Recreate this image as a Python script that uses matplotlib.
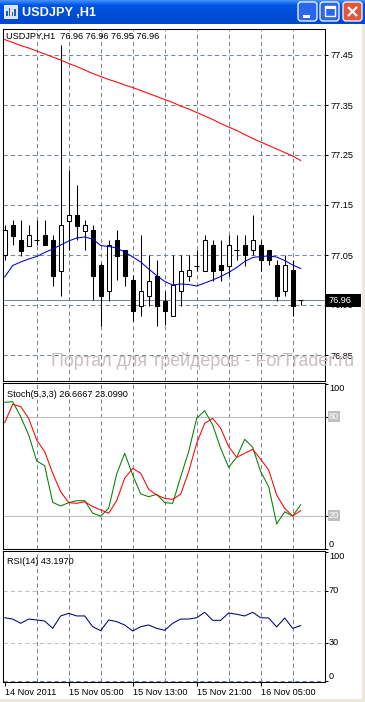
import numpy as np
import matplotlib
matplotlib.use('Agg')
import matplotlib.pyplot as plt
from matplotlib.patches import Rectangle, FancyBboxPatch
import matplotlib.transforms as mtrans

plt.rcParams['font.family'] = ['Liberation Sans', 'DejaVu Sans']

W, H = 365, 702

# ---------------- data ----------------
window_title = "USDJPY ,H1"
chart_label = "USDJPY,H1  76.96 76.96 76.95 76.96"
stoch_label = "Stoch(5,3,3) 26.6667 23.0990"
rsi_label = "RSI(14) 43.1970"
watermark = "Портал для трейдеров - ForTrader.ru"

opens = [77.05, 77.11, 77.08, 77.069, 77.08, 77.09, 77.08, 77.019, 77.119, 77.13,
         77.099, 77.10, 77.03, 76.979, 77.08, 77.06, 77.00, 76.949, 76.969, 77.009,
         76.959, 76.929, 76.979, 77.009, 77.029, 77.019, 77.07, 77.03, 77.029, 77.06,
         77.07, 77.06, 77.07, 77.06, 77.03, 76.979, 77.02, 76.96]
highs = [77.11, 77.12, 77.12, 77.11, 77.12, 77.12, 77.09, 77.47, 77.22, 77.19,
         77.12, 77.11, 77.035, 77.08, 77.10, 77.06, 77.01, 77.09, 77.05, 77.04,
         76.979, 77.05, 77.05, 77.05, 77.06, 77.09, 77.08, 77.08, 77.09, 77.09,
         77.09, 77.13, 77.08, 77.06, 77.04, 77.05, 77.04, 76.96]
lows = [77.04, 77.07, 77.048, 77.069, 77.07, 77.07, 76.988, 76.968, 77.06, 77.08,
        77.06, 76.96, 76.908, 76.959, 77.00, 76.988, 76.919, 76.929, 76.949, 76.908,
        76.91, 76.929, 76.949, 76.999, 77.019, 77.019, 76.999, 76.999, 77.009, 77.04,
        77.029, 77.05, 77.019, 77.03, 76.959, 76.969, 76.929, 76.95]
closes = [77.10, 77.088, 77.059, 77.09, 77.08, 77.07, 77.008, 77.11, 77.13, 77.108,
          77.11, 77.008, 76.968, 77.07, 77.049, 77.008, 76.939, 76.979, 76.999, 76.949,
          76.939, 76.99, 77.019, 77.019, 77.029, 77.08, 77.019, 77.019, 77.07, 77.06,
          77.05, 77.08, 77.04, 77.04, 76.969, 77.03, 76.949, 76.96]

ma_fast = [77.006, 77.029, 77.036, 77.042, 77.047, 77.055, 77.062, 77.070, 77.078, 77.084,
           77.086, 77.082, 77.069, 77.067, 77.064, 77.056, 77.046, 77.036, 77.022, 77.009,
           76.997, 76.990, 76.992, 76.991, 76.988, 76.994, 77.000, 77.007, 77.015, 77.025,
           77.037, 77.045, 77.047, 77.048, 77.046, 77.039, 77.030, 77.023]
ma_slow = [77.481, 77.475, 77.469, 77.464, 77.458, 77.452, 77.446, 77.440, 77.433, 77.427,
           77.420, 77.413, 77.407, 77.401, 77.396, 77.390, 77.385, 77.379, 77.373, 77.367,
           77.361, 77.355, 77.348, 77.342, 77.335, 77.328, 77.321, 77.313, 77.306, 77.299,
           77.291, 77.283, 77.276, 77.269, 77.262, 77.255, 77.248, 77.239]

stoch_main = [88.7, 89.1, 80.0, 68.9, 53.2, 50.3, 28.1, 25.9, 27.9, 29.1,
              29.1, 21.5, 19.8, 24.5, 45.3, 57.8, 44.7, 33.2, 31.5, 33.0,
              27.9, 27.5, 43.6, 58.8, 79.0, 83.6, 75.0, 60.8, 49.3, 55.4,
              66.3, 61.5, 46.7, 37.6, 15.0, 22.4, 19.8, 26.67]
stoch_signal = [76.4, 87.5, 86.1, 79.0, 65.9, 58.8, 45.7, 34.5, 27.9, 27.5,
                28.5, 25.5, 23.5, 21.5, 29.1, 42.7, 48.7, 45.7, 36.0, 32.5,
                30.5, 29.9, 33.0, 46.7, 63.9, 76.0, 79.0, 73.0, 61.8, 55.4,
                57.8, 60.2, 54.2, 47.7, 32.5, 24.5, 19.8, 23.1]
rsi = [49.3, 48.3, 45.0, 48.3, 47.6, 46.8, 41.1, 50.7, 52.7, 50.7,
       50.7, 42.4, 39.3, 47.6, 46.3, 43.7, 39.1, 42.4, 43.7, 41.1,
       39.6, 45.0, 48.3, 48.3, 49.3, 53.5, 47.3, 47.3, 53.0, 52.0,
       50.7, 53.5, 49.3, 49.1, 42.2, 49.1, 41.1, 43.2]

price_ticks = [77.45, 77.35, 77.25, 77.15, 77.05, 76.95, 76.85]
last_price = 76.96
stoch_levels = [80, 20]
stoch_ticks = ["100", "80", "20", "0"]
rsi_levels = [70, 30]
rsi_ticks = ["100", "70", "30", "0"]
time_labels = ["14 Nov 2011", "15 Nov 05:00", "15 Nov 13:00", "15 Nov 21:00", "16 Nov 05:00"]
time_label_idx = [0, 8, 16, 24, 32]
grid_idx = [4, 8, 12, 16, 20, 24, 28, 32, 36]

# ---------------- styles ----------------
GRID = '#778899'
LW = 0.75
FS = 6.6
DASH = (0, (4, 3))

fig = plt.figure(figsize=(W / 100, H / 100), dpi=100)
fig.patch.set_facecolor('#ECE9D8')


def box(x0, y0, x1, y1):
    return [x0 / W, 1 - y1 / H, (x1 - x0) / W, (y1 - y0) / H]


# background / window chrome
bg = fig.add_axes([0, 0, 1, 1], zorder=-10)
bg.set_xlim(0, W)
bg.set_ylim(H, 0)
bg.axis('off')
bg.add_patch(Rectangle((0, 24), 362, 675, fc='white', ec='none'))
n = 24
t = np.linspace(0, 1, n)
top = np.array([0.25, 0.56, 0.99])
mid = np.array([0.0, 0.33, 0.89])
bot = np.array([0.0, 0.28, 0.80])
cols = np.where(t[:, None] < 0.2, top + (mid - top) * (t[:, None] / 0.2),
                mid + (bot - mid) * np.clip((t[:, None] - 0.2) / 0.8, 0, 1))
img = np.repeat(cols[:, None, :], 4, axis=1)
bg.imshow(img, extent=(0, W, 24, 0), aspect='auto', interpolation='bilinear', zorder=1)
bg.set_xlim(0, W)
bg.set_ylim(H, 0)
bg.add_patch(Rectangle((4, 5), 13, 13, fc='#d8e4f8', ec='#ffffff', lw=0.6, zorder=2))
for i, hgt in enumerate([5, 8, 4, 7]):
    bg.add_patch(Rectangle((6 + i * 2.8, 16 - hgt), 1.6, hgt, fc='#2a5db0', ec='none', zorder=3))
bg.text(22, 12.5, window_title, color='white', fontsize=9.2, fontweight='bold',
        va='center', ha='left', zorder=3)
for x0, fc in [(298, '#2a66f2'), (320, '#2a66f2'), (343, '#e0573c')]:
    bg.add_patch(FancyBboxPatch((x0, 2), 19, 19, boxstyle='round,pad=0,rounding_size=3',
                                fc=fc, ec='white', lw=0.9, zorder=3))
bg.add_patch(Rectangle((303, 15), 7, 2.5, fc='white', ec='none', zorder=4))
bg.add_patch(Rectangle((325, 6), 10, 10, fc='none', ec='white', lw=1.0, zorder=4))
bg.add_patch(Rectangle((325, 6), 10, 2.5, fc='white', ec='none', zorder=4))
bg.plot([348, 357], [7, 16], color='white', lw=1.6, zorder=4, solid_capstyle='butt')
bg.plot([348, 357], [16, 7], color='white', lw=1.6, zorder=4, solid_capstyle='butt')

x = np.arange(len(opens))
o = np.array(opens); c = np.array(closes); hi = np.array(highs); lo = np.array(lows)
XLIM = (-0.21, 40.04)

ax1 = fig.add_axes(box(3, 29, 325, 381))
ax2 = fig.add_axes(box(3, 383, 325, 549))
ax3 = fig.add_axes(box(3, 551, 325, 682))

for ax in (ax1, ax2, ax3):
    ax.set_xlim(*XLIM)
    ax.set_facecolor('white')
    for s in ax.spines.values():
        s.set_color('black')
        s.set_linewidth(LW)
    for g in grid_idx:
        ax.axvline(g, color=GRID, lw=LW, ls=DASH, zorder=0.5)
    ax.yaxis.tick_right()
    ax.tick_params(axis='y', length=2.5, width=LW, pad=1.5, labelsize=FS, colors='black')

# ---- main chart ----
ax1.set_ylim(76.798, 77.502)
for p in price_ticks:
    ax1.axhline(p, color=GRID, lw=LW, ls=DASH, zorder=0.5)
ax1.axhline(last_price, color=GRID, lw=LW, zorder=1)
ax1.set_yticks(price_ticks)
ax1.set_yticklabels([f"{p:.2f}" for p in price_ticks])
ax1.set_xticks([])

ax1.vlines(x, lo, hi, color='black', lw=LW, zorder=2)
bull = c > o
bear = c < o
doji = c == o
ax1.bar(x[bull], (c - o)[bull], bottom=o[bull], width=0.5, fc='white', ec='black', lw=LW, zorder=3)
ax1.bar(x[bear], (c - o)[bear], bottom=o[bear], width=0.5, fc='black', ec='black', lw=LW, zorder=3)
ax1.hlines(o[doji], x[doji] - 0.32, x[doji] + 0.32, color='black', lw=LW, zorder=3)
ax1.plot(x, ma_fast, color='#0000CD', lw=LW, zorder=4)
ax1.plot(x, ma_slow, color='#FF0000', lw=LW, zorder=4)

# last price marker on the price scale (figure-level so it covers the 76.95 label)
trp = mtrans.blended_transform_factory(fig.transFigure, ax1.transData)
fig.add_artist(Rectangle((326 / W, last_price - 0.013), 35 / W, 0.026, transform=trp,
                         fc='black', ec='none', zorder=5))
fig.text(328.5 / W, last_price, f"{last_price:.2f}", transform=trp, color='white',
         fontsize=FS, va='center', ha='left', zorder=6)

fig.text(6 / W, 1 - 36.5 / H, chart_label, fontsize=FS, va='center', ha='left')
fig.text(203 / W, 1 - 360.5 / H, watermark, fontsize=12.9, color='#cbbebe', va='center', ha='center')

# ---- stochastic ----
ax2.set_ylim(-0.18, 100.42)
ax2.plot(x, stoch_main, color='#008000', lw=LW, zorder=4)
ax2.plot(x, stoch_signal, color='#FF0000', lw=LW, zorder=4)
for lv in stoch_levels:
    ax2.axhline(lv, color='#c0c0c0', lw=LW, zorder=1)
ax2.axhline(0, color=GRID, lw=LW, ls=DASH, zorder=0.5)
ax2.set_yticks([100, 80, 20, 0])
ax2.set_yticklabels([])
ax2.set_xticks([])
tr2 = mtrans.blended_transform_factory(ax2.transAxes, ax2.transData)
ax2.text(1.012, 100, stoch_ticks[0], transform=tr2, fontsize=FS, va='top', ha='left', clip_on=False)
ax2.text(1.012, 0, stoch_ticks[3], transform=tr2, fontsize=FS, va='bottom', ha='left', clip_on=False)
for lv, lab in zip(stoch_levels, stoch_ticks[1:3]):
    ax2.text(1.012, lv, lab, transform=tr2, fontsize=FS, va='center', ha='left', color='white',
             clip_on=False, bbox=dict(fc='#c0c0c0', ec='none', pad=0.8))
fig.text(7 / W, 1 - 394 / H, stoch_label, fontsize=FS, va='center', ha='left')

# ---- RSI ----
ax3.set_ylim(-0.39, 100.93)
ax3.plot(x, rsi, color='#000080', lw=LW, zorder=4)
for lv in rsi_levels:
    ax3.axhline(lv, color='#c0c0c0', lw=LW, ls=DASH, zorder=1)
ax3.axhline(0, color=GRID, lw=LW, ls=DASH, zorder=0.5)
ax3.set_yticks([100, 70, 30, 0])
ax3.set_yticklabels([])
tr3 = mtrans.blended_transform_factory(ax3.transAxes, ax3.transData)
ax3.text(1.012, 100, rsi_ticks[0], transform=tr3, fontsize=FS, va='top', ha='left', clip_on=False)
ax3.text(1.012, 70, rsi_ticks[1], transform=tr3, fontsize=FS, va='center', ha='left', clip_on=False)
ax3.text(1.012, 30, rsi_ticks[2], transform=tr3, fontsize=FS, va='center', ha='left', clip_on=False)
ax3.text(1.012, 0, rsi_ticks[3], transform=tr3, fontsize=FS, va='bottom', ha='left', clip_on=False)
ax3.set_xticks(time_label_idx)
ax3.set_xticklabels(time_labels, ha='left')
ax3.tick_params(axis='x', length=3, width=LW, pad=1.5, labelsize=FS)
fig.text(7 / W, 1 - 562 / H, rsi_label, fontsize=FS, va='center', ha='left')

fig.savefig('out.png', dpi=100, facecolor=fig.get_facecolor())
